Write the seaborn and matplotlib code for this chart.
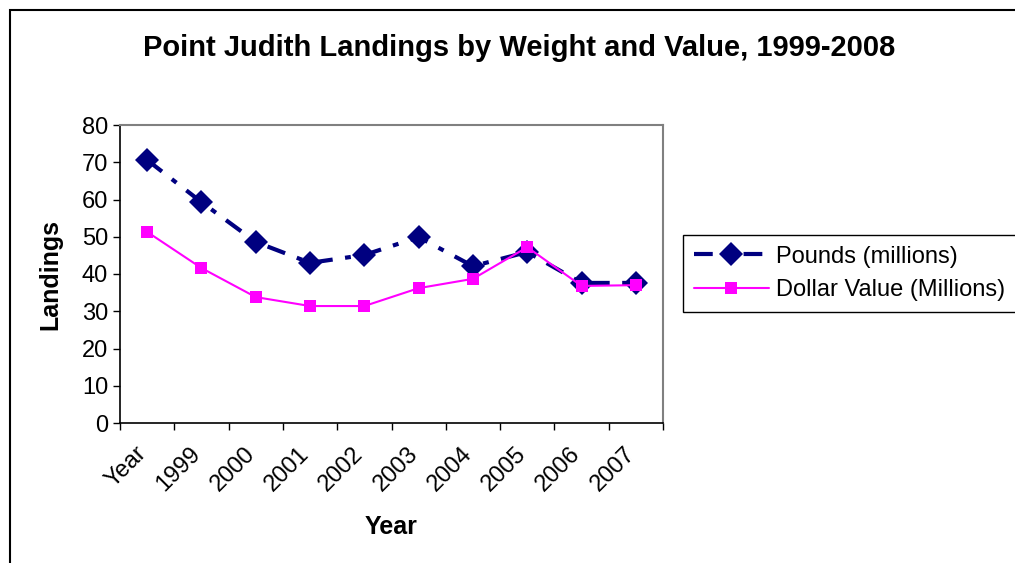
import numpy as np
import pandas as pd
import matplotlib
matplotlib.use("Agg")
import matplotlib.pyplot as plt
import matplotlib.transforms as mtransforms
import seaborn as sns
from matplotlib.patches import Rectangle

categories = ["Year", "1999", "2000", "2001", "2002", "2003", "2004", "2005", "2006", "2007"]
pounds = [70.6, 59.3, 48.6, 43.0, 45.1, 49.9, 42.1, 45.9, 37.6, 37.6]
dollars = [51.3, 41.6, 33.8, 31.4, 31.4, 36.2, 38.7, 47.2, 36.8, 37.0]

sns.set_style("white")
plt.rcParams['font.family'] = ['Liberation Sans', 'DejaVu Sans']
plt.rcParams['text.color'] = 'black'
plt.rcParams['axes.labelcolor'] = 'black'
plt.rcParams['xtick.color'] = 'black'
plt.rcParams['ytick.color'] = 'black'

df = pd.DataFrame({"pos": np.arange(len(categories)),
                   "Pounds (millions)": pounds,
                   "Dollar Value (Millions)": dollars})

fig = plt.figure(figsize=(10.15, 5.63), dpi=100)
ax = fig.add_axes([120 / 1015, 140 / 563, 543 / 1015, 298 / 563])

sns.lineplot(data=df, x="pos", y="Pounds (millions)", ax=ax, color="#000080",
             linewidth=3, marker="D", markersize=12, markeredgewidth=0,
             dashes=False, label="Pounds (millions)")
sns.lineplot(data=df, x="pos", y="Dollar Value (Millions)", ax=ax, color="#FF00FF",
             linewidth=1.5, marker="s", markersize=8, markeredgewidth=0,
             label="Dollar Value (Millions)")
ax.lines[0].set_dashes([4.5, 3, 1.4, 3])

ax.set_xlim(-0.5, len(categories) - 0.5)
ax.set_ylim(0, 80)
ax.set_yticks(np.arange(0, 81, 10))
ax.set_xticks(np.arange(-0.5, len(categories), 1))
ax.set_xticklabels([])
ax.set_xticks(df["pos"], categories, minor=True)
ax.tick_params(axis="x", which="minor", length=0, labelsize=17, pad=14)
ax.tick_params(axis="both", which="major", length=5, width=1, color="black",
               direction="out", labelsize=17, bottom=True, left=True)
shift = mtransforms.ScaledTranslation(-12 / 100, 0, fig.dpi_scale_trans)
for lbl in ax.get_xticklabels(minor=True):
    lbl.set_rotation(45)
    lbl.set_ha("right")
    lbl.set_rotation_mode("anchor")
    lbl.set_transform(lbl.get_transform() + shift)

for s in ["left", "bottom"]:
    ax.spines[s].set_color("black")
    ax.spines[s].set_linewidth(1.2)
for s in ["top", "right"]:
    ax.spines[s].set_color("#808080")
    ax.spines[s].set_linewidth(1.5)

ax.set_xlabel("Year", fontsize=18, fontweight="bold", labelpad=14)
ax.set_ylabel("Landings", fontsize=18, fontweight="bold", labelpad=14)
fig.suptitle("Point Judith Landings by Weight and Value, 1999-2008",
             x=519 / 1015, y=1 - 48 / 563, va="center", fontsize=21, fontweight="bold")

handles, labels = ax.get_legend_handles_labels()
ax.get_legend().remove()
leg = fig.legend(handles, labels, loc="upper left",
                 bbox_to_anchor=(683 / 1015, 1 - 235 / 563), fontsize=17,
                 frameon=True, fancybox=False, edgecolor="black", framealpha=1,
                 borderpad=0.45, handlelength=3.2, handletextpad=0.3,
                 labelspacing=0.5, borderaxespad=0)
leg.get_frame().set_linewidth(1)

fig.patches.append(Rectangle((10 / 1015, -0.1), 1.2, 1 - 10 / 563 + 0.1,
                             transform=fig.transFigure, fill=False,
                             edgecolor="black", linewidth=1.5))

fig.savefig("out.png", dpi=100)
